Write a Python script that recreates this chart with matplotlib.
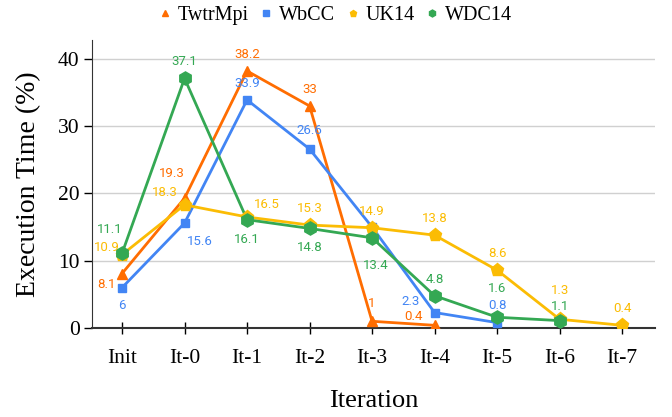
import matplotlib.pyplot as plt

iterations = ["Init", "It-0", "It-1", "It-2", "It-3", "It-4", "It-5", "It-6", "It-7"]

twtr_mpi = [8.1, 19.3, 38.2, 33, 1, 0.4]
wbcc = [6, 15.6, 33.9, 26.6, 15.0, 2.3, 0.8]
uk14 = [10.9, 18.3, 16.5, 15.3, 14.9, 13.8, 8.6, 1.3, 0.4]
wdc14 = [11.1, 37.1, 16.1, 14.8, 13.4, 4.8, 1.6, 1.1]

# label offsets in points (dx, dy), None = no label
twtr_off = [(-11, -8), (-9, 18), (0, 12), (0, 12), (0, 13), (-15, 6)]
wbcc_off = [(0, -13), (11, -13), (0, 12), (0, 13), None, (-17, 8), (0, 12)]
uk14_off = [(-11, 5), (-14, 9), (14, 9), (0, 12), (0, 12), (0, 12), (0, 12), (0, 21), (0, 12)]
wdc14_off = [(-9, 17), (0, 12), (0, -14), (0, -14), (3, -20), (0, 12), (0, 21), (0, 10)]

series = [
    ("TwtrMpi", twtr_mpi, twtr_off, "#ff6d01", "^", 7.5),
    ("WbCC", wbcc, wbcc_off, "#4285f4", "s", 6),
    ("UK14", uk14, uk14_off, "#fbbc04", "p", 9.5),
    ("WDC14", wdc14, wdc14_off, "#34a853", "h", 9.5),
]

fig = plt.figure(figsize=(6.72, 4.17), dpi=100)
ax = fig.add_axes([0.137, 0.2134, 0.838, 0.6906])

handles = []
for name, vals, offs, color, marker, ms in series:
    xs = list(range(len(vals)))
    ax.plot(xs, vals, color=color, lw=2.0, zorder=3)
    ax.plot(xs, vals, linestyle="none", marker=marker, color=color, ms=ms, zorder=4)
    h, = ax.plot([], [], linestyle="none", marker=marker, color=color, ms=5, label=name)
    handles.append(h)
    for x, v, off in zip(xs, vals, offs):
        if off is None:
            continue
        ax.annotate(f"{v:g}", (x, v), xytext=off, textcoords="offset points",
                    ha="center", va="center", color=color, fontsize=9.5,
                    family="Roboto", zorder=5)

ax.set_xticks(range(len(iterations)))
ax.set_xticklabels(iterations, family="Liberation Serif", fontsize=15.5)
ax.set_yticks([0, 10, 20, 30, 40])
ax.set_yticklabels(["0", "10", "20", "30", "40"], family="Liberation Serif", fontsize=15.5)
ax.set_xlim(-0.48, 8.53)
ax.set_ylim(0, 42.8)
ax.grid(axis="y", color="#d0d0d0", lw=1)
ax.set_axisbelow(True)
ax.tick_params(axis="x", direction="inout", length=8, width=1, pad=11)
ax.tick_params(axis="y", direction="out", length=6, width=1, pad=3)
ax.spines["top"].set_visible(False)
ax.spines["right"].set_visible(False)
ax.spines["left"].set_color("#333333")
ax.spines["bottom"].set_color("#333333")
ax.spines["bottom"].set_linewidth(1.5)

ax.set_xlabel("Iteration", family="Liberation Serif", fontsize=19, labelpad=16)
ax.set_ylabel("Execution Time (%)", family="Liberation Serif", fontsize=20, labelpad=12)

fig.legend(handles=handles, loc="upper center", bbox_to_anchor=(0.5, 1.03), ncol=4,
           frameon=False, handletextpad=0.4, columnspacing=0.6, handlelength=0.5,
           prop={"family": "Liberation Serif", "size": 14.5})

fig.savefig("out.png", dpi=100)
